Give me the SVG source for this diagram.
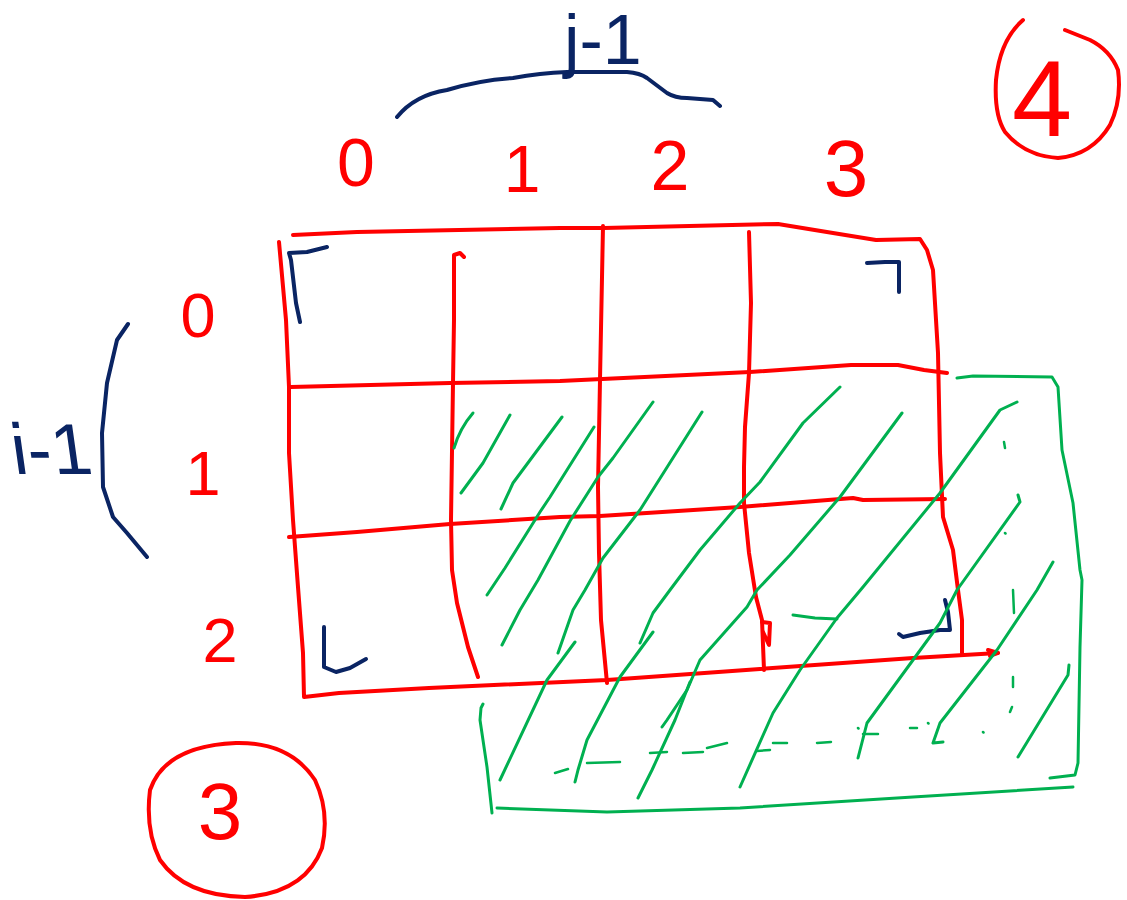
<svg xmlns="http://www.w3.org/2000/svg" width="1127" height="900" viewBox="0 0 1127 900">
<style>
.r{fill:none;stroke:#ff0000;stroke-width:4;stroke-linecap:round;stroke-linejoin:round}
.n{fill:none;stroke:#0a2463;stroke-width:4;stroke-linecap:round;stroke-linejoin:round}
.g{fill:none;stroke:#00b050;stroke-width:3;stroke-linecap:round;stroke-linejoin:round}
.gd{fill:none;stroke:#00b050;stroke-width:2.5;stroke-linecap:round}
.tr{font-family:"Liberation Sans",Arial,sans-serif;fill:#ff0000;text-anchor:middle}
.tn{font-family:"Liberation Sans",Arial,sans-serif;fill:#0a2463}
</style>
<rect width="1127" height="900" fill="#ffffff"/>

<g id="grid">
<path class="r" d="M293,235 L357,232 L560,228 L604,228 L778,224 L833,233 L876,240 L920,239 L927,250 L933,270 L938,353 L940,453 L943,517 L953,550 L958,590 L962,620 L962,653"/>
<path class="r" d="M279,242 L286,320 L289,387 L289,453 L293,520 L298,587 L303,653 L304,697 L339,693 L429,688 L607,680 L760,669 L913,658 L998,653"/>
<path class="r" d="M988,650 L998,653 L990,656"/>
<path class="r" d="M291,387 L450,383 L560,381 L750,372 L851,365 L898,365 L924,370 L947,373"/>
<path class="r" d="M289,537 L357,532 L450,524 L560,517 L600,516 L740,507 L853,498 L863,500 L945,499"/>
<path class="r" d="M464,257 L460,253 L454,255 L454,320 L453,383 L451,520 L452,570 L457,603 L468,647 L478,677"/>
<path class="r" d="M603,226 L600,380 L598,487 L599,553 L601,620 L607,683"/>
<path class="r" d="M749,232 L751,303 L749,373 L745,427 L744,467 L744,503 L749,553 L756,597 L762,620 L763,645 L764,670"/>
<path class="r" stroke-width="2.5" d="M762,622 L770,623 L769,645 L763,632"/>
</g>

<g id="corners">
<path class="n" d="M327,247 L307,252 L289,253 L291,260 L296,303 L300,322"/>
<path class="n" d="M867,263 L885,262 L899,262 L899,292"/>
<path class="n" d="M324,627 L324,667 L336,672 L350,668 L366,659"/>
<path class="n" d="M945,600 L948,612 L950,630 L940,630 L920,633 L903,637 L899,634"/>
</g>

<g id="overlay">
<path class="g" stroke-width="3.5" d="M957,378 L973,376 L1052,377 L1058,387 L1062,450 L1073,503 L1080,570 L1082,580 L1080,647 L1078,763 L1075,775 L1050,778"/>
<path class="g" stroke-width="3.5" d="M1073,787 L913,797 L740,808 L607,812 L497,808"/>
<path class="g" stroke-width="3.5" d="M483,704 L481,708 L480,720 L487,767 L492,813"/>
</g>

<g id="hatching">
<path class="g" d="M454,448 Q460,428 473,413"/>
<path class="g" d="M461,493 L483,463 L510,415"/>
<path class="g" d="M501,509 L513,483 L562,417"/>
<path class="g" d="M594,427 L550,497 L540,512 L505,568 L487,595"/>
<path class="g" d="M653,402 L613,458 L598,477 L570,521 L538,580 L520,610 L502,645"/>
<path class="g" d="M702,412 L640,510 L603,558 L585,590 L573,610 L558,653"/>
<path class="g" d="M575,642 L547,680 L500,780"/>
<path class="g" d="M840,387 L803,423 L760,482 L740,503 L700,550 L670,590 L653,613 L640,643"/>
<path class="g" d="M653,632 L620,677 L587,740 L578,770 L575,782"/>
<path class="g" d="M902,413 L840,497 L790,555 L757,590 L747,607 L700,660 L687,690 L667,720 L662,727"/>
<path class="g" d="M690,682 L675,720 L652,770 L638,798"/>
<path class="g" d="M1017,402 L1000,410 L940,493 L863,587 L837,618 L800,670 L773,713 L740,787"/>
<path class="g" d="M1018,495 L1020,502 L957,590 L940,623 L913,660 L867,723 L858,758"/>
<path class="g" d="M1053,562 L1037,590 L997,650 L940,723 L933,743 L943,742"/>
<path class="g" d="M1069,665 L1068,675 L1018,757"/>
<path class="g" stroke-width="3.5" d="M793,615 L815,618 L837,619"/>
<path class="gd" d="M555,773 L568,769 M587,763 L620,762 M650,753 L667,752 M683,753 L703,752 M707,748 L727,743 M757,751 L770,750 M773,743 L787,743 M817,743 L831,742 M863,734 L878,734 M910,728 L917,728"/>
<path class="gd" d="M858,728 L858.5,728.5 M928,723 L928.5,723.5 M983,732 L983.5,732.5 M1005,533 L1005.5,533.5 M1004,442 L1005,448 M1013,590 L1014,613 M1013,677 L1013,687 M1010,712 L1012,707"/>
</g>

<g id="brackets">
<path class="n" stroke-width="5" d="M397,117 Q415,95 447,90 Q480,80 513,78 Q540,73 567,72 L627,72 Q640,73 647,78 L667,93 Q675,98 687,98 L713,100 L720,106"/>
<path class="n" d="M128,324 L117,340 L107,383 L102,433 L103,487 L113,517 L127,533 L147,557"/>
</g>

<g id="labels">
<text class="tn" x="564" y="64" font-size="70">j-1</text>
<text class="tn" x="14" y="474" font-size="72" transform="skewX(8) translate(-66,0)">i-1</text>
<text class="tr" x="356" y="186" font-size="68">0</text>
<text class="tr" x="522" y="192" font-size="66">1</text>
<text class="tr" x="670" y="190" font-size="70">2</text>
<text class="tr" x="846" y="196" font-size="80">3</text>
<text class="tr" x="198" y="337" font-size="63">0</text>
<text class="tr" x="203" y="495" font-size="63">1</text>
<text class="tr" x="220" y="662" font-size="63">2</text>
</g>

<g id="circle4">
<path class="r" d="M1023,20 Q1000,40 996,80 Q994,115 1005,132 Q1025,156 1058,158 Q1092,155 1110,125 Q1122,100 1118,70 Q1110,50 1090,40 L1065,30"/>
<text class="tr" x="1042" y="136" font-size="108">4</text>
</g>

<g id="circle3">
<path class="r" d="M236,743 Q290,742 315,780 Q330,812 322,848 Q305,893 245,897 Q185,896 160,860 Q145,830 150,790 Q165,746 236,743 Z"/>
<text class="tr" x="220" y="839" font-size="80">3</text>
</g>
</svg>
